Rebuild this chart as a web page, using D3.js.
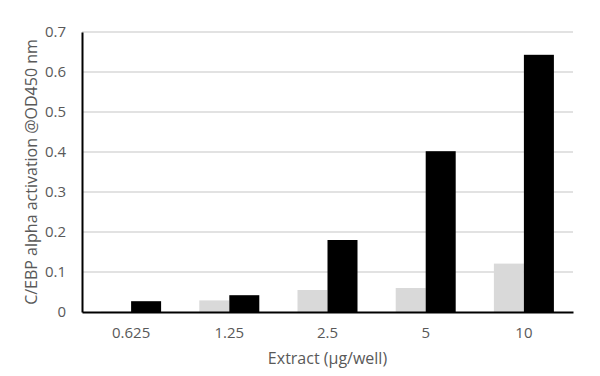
<!DOCTYPE html>
<html>
<head>
<meta charset="utf-8">
<script src="https://cdn.jsdelivr.net/npm/d3@7"></script>
<style>
  body { margin: 0; background: #fff; }
  text { font-family: "Open Sans", "Noto Sans", sans-serif; }
</style>
</head>
<body>
<div id="chart"></div>
<script>
// chart values
var categories = ["0.625", "1.25", "2.5", "5", "10"];
var seriesNames = ["control", "extract"];
var greyValues = [0.001, 0.029, 0.055, 0.06, 0.121];
var blackValues = [0.027, 0.042, 0.18, 0.402, 0.643];
var yTicks = [0, 0.1, 0.2, 0.3, 0.4, 0.5, 0.6, 0.7];
var seriesColors = ["#d9d9d9", "#000000"];

var width = 600, height = 376;
var margin = {top: 32, right: 27, bottom: 64, left: 82};
var innerW = width - margin.left - margin.right,
    innerH = height - margin.top - margin.bottom;

var svg = d3.select("#chart").append("svg")
    .attr("width", width)
    .attr("height", height);

var g = svg.append("g")
    .attr("transform", "translate(" + margin.left + "," + margin.top + ")");

var x = d3.scaleBand().domain(categories).range([0, innerW]).paddingInner(0).paddingOuter(0);
var y = d3.scaleLinear().domain([0, 0.7]).range([innerH, 0]);
var barW = 30;
var xs = d3.scaleBand().domain(seriesNames).range([x.bandwidth() / 2 - barW, x.bandwidth() / 2 + barW]);

// gridlines
g.selectAll("line.grid")
    .data(yTicks.filter(function(d) { return d > 0; }))
    .enter().append("line")
    .attr("class", "grid")
    .attr("x1", 0).attr("x2", innerW)
    .attr("y1", function(d) { return y(d); })
    .attr("y2", function(d) { return y(d); })
    .attr("stroke", "#d9d9d9")
    .attr("stroke-width", 1.3);

var rows = categories.map(function(c, i) {
  return {cat: c, vals: [greyValues[i], blackValues[i]]};
});

var groups = g.selectAll("g.grp")
    .data(rows)
    .enter().append("g")
    .attr("class", "grp")
    .attr("transform", function(d) { return "translate(" + x(d.cat) + ",0)"; });

groups.selectAll("rect")
    .data(function(d) { return d.vals.map(function(v, k) { return {name: seriesNames[k], v: v, k: k}; }); })
    .enter().append("rect")
    .attr("x", function(d) { return xs(d.name); })
    .attr("width", xs.bandwidth())
    .attr("y", function(d) { return y(d.v); })
    .attr("height", function(d) { return innerH - y(d.v); })
    .attr("fill", function(d) { return seriesColors[d.k]; });

// y axis
var yAxis = g.append("g")
    .call(d3.axisLeft(y).tickValues(yTicks).tickSize(0).tickPadding(16)
      .tickFormat(function(d) { return d === 0 ? "0" : d3.format(".1f")(d); }));
yAxis.select(".domain").attr("stroke", "#000").attr("stroke-width", 2);
yAxis.selectAll("text").attr("fill", "#595959").style("font-size", "15px");

// x axis
var xAxis = g.append("g")
    .attr("transform", "translate(0," + innerH + ")")
    .call(d3.axisBottom(x).tickSize(0).tickPadding(15));
xAxis.select(".domain").attr("stroke", "#000").attr("stroke-width", 2);
xAxis.selectAll("text").attr("fill", "#595959").style("font-size", "15px");

// axis titles
svg.append("text")
    .attr("transform", "translate(31," + (margin.top + innerH / 2) + ") rotate(-90)")
    .attr("text-anchor", "middle")
    .attr("dy", "0.35em")
    .attr("fill", "#595959")
    .style("font-size", "16px")
    .text("C/EBP alpha activation @OD450 nm");

svg.append("text")
    .attr("x", margin.left + innerW / 2)
    .attr("y", 364)
    .attr("text-anchor", "middle")
    .attr("fill", "#595959")
    .style("font-size", "16px")
    .text("Extract (μg/well)");
</script>
</body>
</html>
